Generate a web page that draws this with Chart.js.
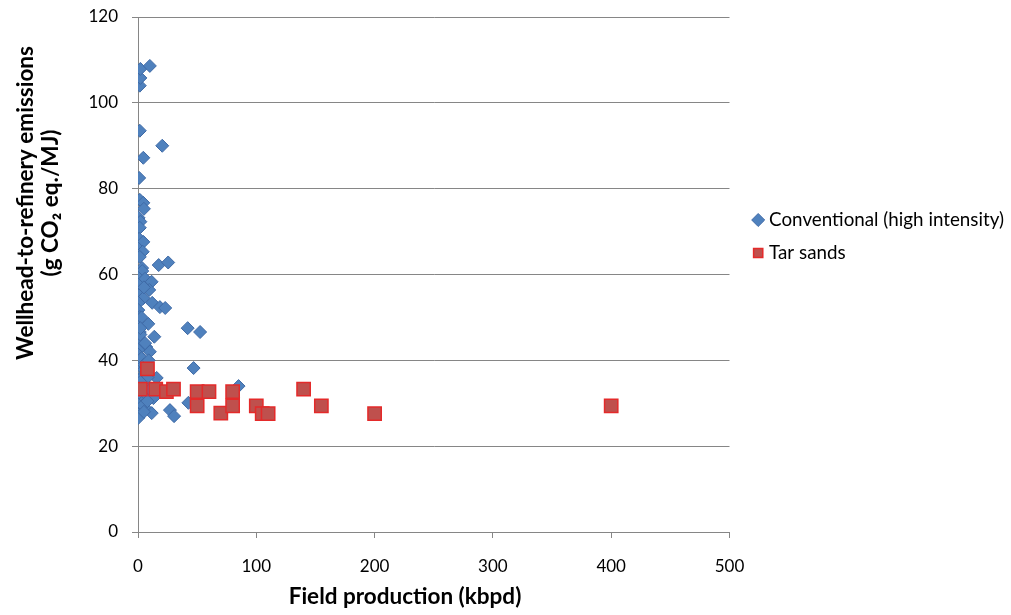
<!DOCTYPE html>
<html>
<head>
<meta charset="utf-8">
<script src="https://cdn.jsdelivr.net/npm/chart.js@4.4.0/dist/chart.umd.min.js"></script>
<style>
html,body{margin:0;padding:0;background:#fff;}
#wrap{width:1011px;height:615px;position:relative;}
</style>
</head>
<body>
<div id="wrap"><canvas id="c" width="1011" height="615"></canvas></div>
<script>
// Conventional (high intensity): field production (kbpd) and emissions (g CO2 eq./MJ)
const convX = [1.5,2,2,10,1.5,4.5,20.5,1,1.5,4.5,5,0.5,2,1.5,1,4.5,0.3,4,1.5,17.5,25.5,3.5,3.6,0.3,6,11.5,0.3,9.5,1,4.5,0.3,12,18.5,23,0.3,1.5,0.3,8.7,42,52.5,1.5,0.3,13.8,1.5,7,0.3,10,0.3,3,1,47,5,4.5,15.8,1,7,85,10,4,13,0.5,42.6,0.3,6,27,11.6,2,30.5,0.3,2,3,5,8,2,9,6,3,5,2,4,8,1,5];
const convY = [104,105.8,107.9,108.6,93.5,87.2,90,82.5,77.4,76.7,75.3,73.2,72.3,70.9,68.3,67.6,66,65.3,64.1,62.2,62.8,61.5,60.8,59.2,59,58.3,57.6,56.4,55.2,54.5,53.4,53.4,52.4,52.2,51.7,50.1,49,48.5,47.5,46.6,46.6,45.5,45.5,44,43.1,42.4,42,41.3,40.1,38.9,38.2,37.8,36.6,35.9,35.4,34.3,34,33.1,31.9,31.2,30.8,30.1,29.6,28.9,28.4,27.7,27.7,27,26.6,46,40.5,39,36,35,40,44,50,57,47.5,29.5,30.5,32.5,28];
// Tar sands
const tarX = [8,2,15,24,30,50,60,80,50,70,80,100,105,110,140,155,200,400];
const tarY = [38,33.3,33.3,32.7,33.3,32.7,32.7,32.7,29.4,27.7,29.4,29.4,27.6,27.6,33.3,29.4,27.6,29.4];
const seriesNames = ['Conventional (high intensity)','Tar sands'];
const xTicks = [0,100,200,300,400,500];
const yTicks = [0,20,40,60,80,100,120];
const xTitle = 'Field production (kbpd)';
const yTitle = ['Wellhead-to-refinery emissions', '(g CO\u2082 eq./MJ)'];

const zip = (xs, ys) => xs.map((x, i) => ({x: x, y: ys[i]}));
const FAMILY = 'Lato, "Open Sans", sans-serif';
const GRID = '#868686';

// Axis titles placed as in the original (offset from the plot centre)
const axisTitles = {
  id: 'axisTitles',
  afterDraw(chart) {
    const {ctx, chartArea} = chart;
    ctx.save();
    ctx.fillStyle = '#000';
    ctx.font = 'bold 22.5px ' + FAMILY;
    ctx.textAlign = 'center';
    ctx.textBaseline = 'alphabetic';
    ctx.fillText(xTitle, chartArea.left + 267, chartArea.bottom + 72);
    ctx.translate(0, chartArea.top + 186);
    ctx.rotate(-Math.PI / 2);
    ctx.fillText(yTitle[0], 0, 33);
    ctx.fillText(yTitle[1], 0, 58);
    ctx.restore();
  }
};

new Chart(document.getElementById('c'), {
  type: 'scatter',
  data: {
    datasets: [
      {
        label: seriesNames[0],
        data: zip(convX, convY),
        pointStyle: 'rectRot',
        pointRadius: 6.5,
        pointHoverRadius: 6.5,
        backgroundColor: '#4f81bd',
        borderColor: '#3f6aa6',
        borderWidth: 1,
        order: 1
      },
      {
        label: seriesNames[1],
        data: zip(tarX, tarY),
        pointStyle: 'rect',
        pointRadius: 9.4,
        pointHoverRadius: 9.4,
        backgroundColor: '#bf504d',
        borderColor: '#e42a2a',
        borderWidth: 1.5,
        order: 0
      }
    ]
  },
  plugins: [axisTitles],
  options: {
    responsive: false,
    animation: false,
    events: [],
    layout: { padding: { top: 17, left: 0, right: -3, bottom: 0 } },
    plugins: {
      tooltip: { enabled: false },
      legend: {
        position: 'right',
        align: 'start',
        fullSize: false,
        maxWidth: 320,
        title: { display: true, text: '', padding: { top: 165, bottom: 0 } },
        labels: {
          usePointStyle: true,
          boxWidth: 3,
          boxHeight: 9.2,
          padding: 14.2,
          color: '#000',
          font: { family: FAMILY, size: 18.8 },
          sort: (a, b) => a.datasetIndex - b.datasetIndex
        }
      }
    },
    scales: {
      x: {
        type: 'linear',
        min: 0, max: 500,
        afterBuildTicks: s => { s.ticks = xTicks.map(v => ({value: v})); },
        afterFit: s => { s.height = 83; },
        border: { display: true, color: GRID, width: 1 },
        grid: { drawOnChartArea: false, drawTicks: true, tickLength: 6, color: GRID },
        ticks: { color: '#000', font: { family: FAMILY, size: 17 }, padding: 18.5, maxRotation: 0 }
      },
      y: {
        type: 'linear',
        min: 0, max: 120,
        afterBuildTicks: s => { s.ticks = yTicks.map(v => ({value: v})); },
        afterFit: s => { s.width = 138; s.paddingTop = 0; s.paddingBottom = 0; },
        border: { display: true, color: GRID, width: 1 },
        grid: { color: GRID, drawTicks: true, tickLength: 6 },
        ticks: { color: '#000', font: { family: FAMILY, size: 17 }, padding: 14 }
      },
      gap: {
        type: 'linear',
        position: 'right',
        display: true,
        afterFit: s => { s.width = 13; s.paddingTop = 0; s.paddingBottom = 0; },
        border: { display: false },
        grid: { display: false },
        ticks: { display: false }
      }
    }
  }
});
</script>
</body>
</html>
